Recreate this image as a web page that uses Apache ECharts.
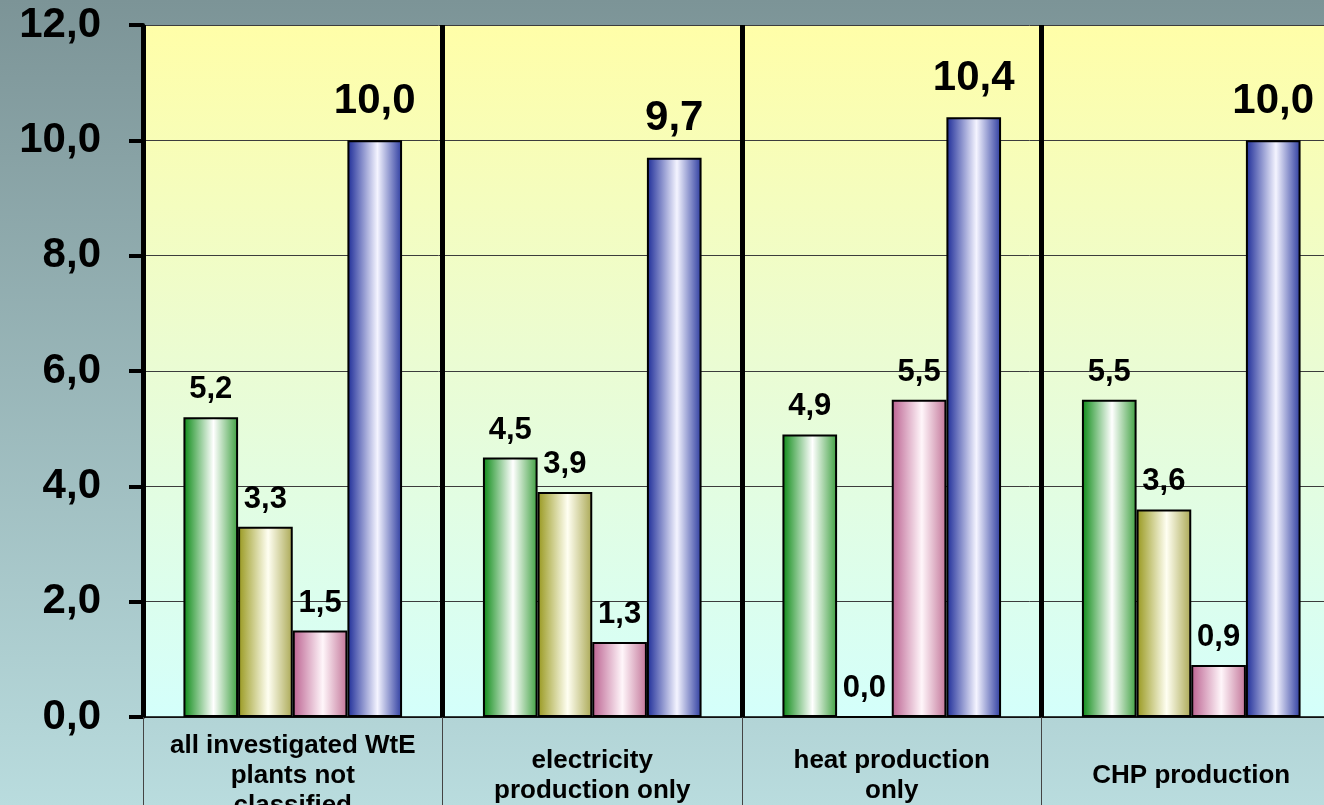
<!DOCTYPE html>
<html>
<head>
<meta charset="utf-8">
<script src="https://cdn.jsdelivr.net/npm/echarts@6/dist/echarts.min.js"></script>
<style>
  html, body { margin: 0; padding: 0; }
  #chart { width: 1324px; height: 805px; }
</style>
</head>
<body>
<div id="chart"></div>
<script>
// Plant categories (x axis)
const categories = [
  'all investigated WtE\nplants not\nclassified',
  'electricity\nproduction only',
  'heat production\nonly',
  'CHP production'
];
// Series values per category
const greenValues = [5.2, 4.5, 4.9, 5.5];
const oliveValues = [3.3, 3.9, 0.0, 3.6];
const pinkValues  = [1.5, 1.3, 5.5, 0.9];
const blueValues  = [10.0, 9.7, 10.4, 10.0];
// Value axis ticks
const yTicks = [0, 2, 4, 6, 8, 10, 12];

const FONT = '"Liberation Sans", Arial, sans-serif';
const fmt = v => Number(v).toFixed(1).replace('.', ',');

// Cylinder-like horizontal shading for each bar colour
function tube(edgeL, mid, edgeR) {
  return new echarts.graphic.LinearGradient(0, 0, 1, 0, [
    { offset: 0, color: edgeL },
    { offset: 0.55, color: mid },
    { offset: 1, color: edgeR }
  ]);
}

function barSeries(values, fill, labelSize, labelDist) {
  return {
    type: 'bar',
    data: values,
    barGap: '0%',
    barCategoryGap: '27%',
    itemStyle: { color: fill, borderColor: '#000', borderWidth: 2 },
    label: {
      show: true,
      position: 'top',
      distance: labelDist,
      formatter: p => fmt(p.value),
      color: '#000',
      fontFamily: FONT,
      fontWeight: 'bold',
      fontSize: labelSize
    },
    emphasis: { disabled: true },
    animation: false
  };
}

const chart = echarts.init(document.getElementById('chart'), null, { renderer: 'canvas' });
chart.setOption({
  animation: false,
  backgroundColor: new echarts.graphic.LinearGradient(0, 0, 0, 1, [
    { offset: 0, color: '#7c9497' },
    { offset: 1, color: '#b9dcde' }
  ]),
  grid: {
    left: 143, top: 25, right: -17, bottom: 88,
    outerBoundsMode: 'none',
    containLabel: false,
    show: true,
    borderWidth: 0,
    backgroundColor: new echarts.graphic.LinearGradient(0, 0, 0, 1, [
      { offset: 0, color: '#fffea8' },
      { offset: 0.5, color: '#eafcd4' },
      { offset: 1, color: '#d4fffb' }
    ])
  },
  xAxis: {
    type: 'category',
    data: categories,
    boundaryGap: true,
    axisLine: { show: true, lineStyle: { color: '#000', width: 1.5 } },
    axisTick: { show: true, interval: 0, length: 90, lineStyle: { color: '#444', width: 1 } },
    splitLine: { show: true, interval: 0, lineStyle: { color: '#000', width: 5 } },
    axisLabel: {
      interval: 0,
      margin: 59,
      verticalAlign: 'middle',
      lineHeight: 30,
      color: '#000',
      fontFamily: FONT,
      fontWeight: 'bold',
      fontSize: 26
    }
  },
  yAxis: {
    type: 'value',
    min: yTicks[0],
    max: yTicks[yTicks.length - 1],
    interval: yTicks[1] - yTicks[0],
    axisLine: { show: true, lineStyle: { color: '#000', width: 4 } },
    axisTick: { show: true, length: 14, lineStyle: { color: '#000', width: 4 } },
    splitLine: { show: true, lineStyle: { color: '#3c3c3c', width: 1 } },
    axisLabel: {
      margin: 42,
      padding: [8, 0, 0, 0],
      formatter: fmt,
      color: '#000',
      fontFamily: FONT,
      fontWeight: 'bold',
      fontSize: 42
    }
  },
  series: [
    barSeries(greenValues, tube('#0b8a15', '#ffffff', '#3ea040'), 31, 12),
    barSeries(oliveValues, tube('#98981e', '#fffff2', '#aaa854'), 31, 12),
    barSeries(pinkValues,  tube('#bb6190', '#fff6fa', '#c27498'), 31, 12),
    barSeries(blueValues,  tube('#1d2c98', '#f4f4ff', '#2c3b9f'), 42, 18)
  ]
});
</script>
</body>
</html>
